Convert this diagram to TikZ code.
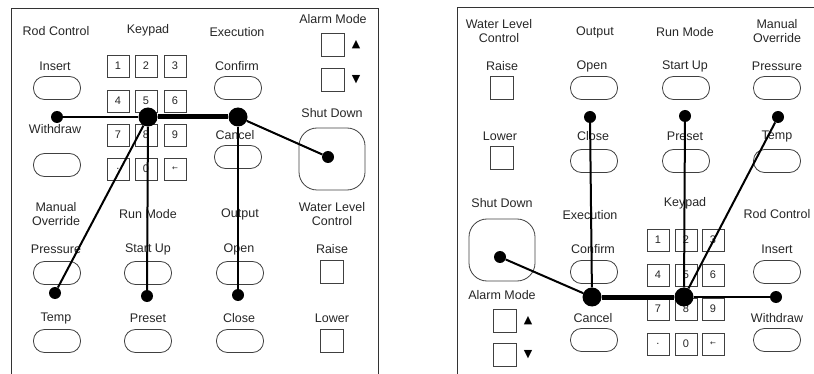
\documentclass[tikz,border=0pt]{standalone}
\usepackage{fontspec}
\setmainfont{Liberation Sans}
\newfontfamily\symfont{DejaVu Sans}
\usepackage{xcolor}
\usepackage{tikz}
\usetikzlibrary{shapes.geometric}
\tikzstyle{caption} = [font=\fontsize{12.5}{14}\selectfont, text=black!85, inner sep=0pt, align=center]
\tikzstyle{ovalbutton} = [rectangle, rounded corners=11pt, minimum width=47pt, minimum height=23pt, draw=black!75, line width=0.8pt]
\tikzstyle{squarebox} = [rectangle, minimum width=23pt, minimum height=23pt, draw=black!75, line width=0.8pt]
\tikzstyle{keybox} = [rectangle, minimum width=22pt, minimum height=22pt, draw=black!75, line width=0.9pt, font=\fontsize{11}{12}\selectfont, text=black!85, inner sep=0pt]
\tikzstyle{bigbutton} = [rectangle, rounded corners=18pt, minimum width=66pt, minimum height=62pt, draw=black!75, line width=0.8pt]
\tikzstyle{marker} = [font=\symfont\fontsize{11}{12}\selectfont, inner sep=0pt]
\tikzstyle{dot} = [circle, fill=black, inner sep=0pt, minimum size=12pt]
\tikzstyle{hub} = [circle, fill=black, inner sep=0pt, minimum size=19pt]
\tikzstyle{link} = [line width=2pt]
\tikzstyle{trunk} = [line width=5pt]
\tikzstyle{frame} = [draw=black!80, line width=1pt]
\begin{document}
\begin{tikzpicture}[x=1pt, y=-1pt]
    \useasboundingbox (0,0) rectangle (814,374);
    % left panel
    \draw [frame] (11,374) -- (11,9) -- (378,9) -- (378,374);
    \node (l_rod) [caption] at (56,31) {Rod Control};
    \node (l_keypad) [caption] at (148,30) {Keypad};
    \node (l_exec) [caption] at (237,32) {Execution};
    \node (l_alarm) [caption] at (333,19) {Alarm Mode};
    \node (l_insert_lbl) [caption] at (55,66) {Insert};
    \node (l_insert) [ovalbutton] at (57,88) {};
    \node (l_withdraw_lbl) [caption] at (55,129) {Withdraw};
    \node (l_withdraw) [ovalbutton] at (57,165) {};
    \node (l_confirm_lbl) [caption] at (237,66) {Confirm};
    \node (l_confirm) [ovalbutton] at (238,88) {};
    \node (l_cancel_lbl) [caption] at (235,135) {Cancel};
    \node (l_cancel) [ovalbutton] at (238,157) {};
    \node (l_key1) [keybox] at (118,66) {1};
    \node (l_key2) [keybox] at (146,66) {2};
    \node (l_key3) [keybox] at (175,66) {3};
    \node (l_key4) [keybox] at (118,101) {4};
    \node (l_key5) [keybox] at (146,101) {5};
    \node (l_key6) [keybox] at (175,101) {6};
    \node (l_key7) [keybox] at (118,135) {7};
    \node (l_key8) [keybox] at (146,135) {8};
    \node (l_key9) [keybox] at (175,135) {9};
    \node (l_keydot) [keybox] at (118,169) {.};
    \node (l_key0) [keybox] at (146,169) {0};
    \node (l_keyback) [keybox] at (175,169) {\symfont\fontsize{7}{8}\selectfont ←};
    \node (l_alarm_up) [squarebox] at (333,45) {};
    \node (l_up) [marker] at (356,45) {▲};
    \node (l_alarm_down) [squarebox] at (333,80) {};
    \node (l_down) [marker] at (356,80) {▼};
    \node (l_shut_lbl) [caption] at (332,113) {Shut Down};
    \node (l_shut) [bigbutton] at (332,159) {};
    \node (l_manual) [caption] at (56,214) {Manual\\Override};
    \node (l_run) [caption] at (148,214) {Run Mode};
    \node (l_output) [caption] at (240,214) {Output};
    \node (l_water) [caption] at (332,214) {Water Level\\Control};
    \node (l_pressure_lbl) [caption] at (56,249) {Pressure};
    \node (l_pressure) [ovalbutton] at (57,273) {};
    \node (l_startup_lbl) [caption] at (148,249) {Start Up};
    \node (l_startup) [ovalbutton] at (148,273) {};
    \node (l_open_lbl) [caption] at (239,249) {Open};
    \node (l_open) [ovalbutton] at (240,273) {};
    \node (l_raise_lbl) [caption] at (332,249) {Raise};
    \node (l_raise) [squarebox] at (332,272) {};
    \node (l_temp_lbl) [caption] at (56,318) {Temp};
    \node (l_temp) [ovalbutton] at (57,341) {};
    \node (l_preset_lbl) [caption] at (148,318) {Preset};
    \node (l_preset) [ovalbutton] at (148,341) {};
    \node (l_close_lbl) [caption] at (239,318) {Close};
    \node (l_close) [ovalbutton] at (240,341) {};
    \node (l_lower_lbl) [caption] at (332,318) {Lower};
    \node (l_lower) [squarebox] at (332,341) {};
    \node (l_insert_dot) [dot] at (57,117) {};
    \node (l_hub_key) [hub] at (148,117) {};
    \node (l_hub_exec) [hub] at (238,117) {};
    \node (l_shut_dot) [dot] at (328,157) {};
    \node (l_temp_dot) [dot] at (55,293) {};
    \node (l_preset_dot) [dot] at (147,296) {};
    \node (l_close_dot) [dot] at (238,295) {};
    \draw [link] (l_insert_dot) -- (l_hub_key);
    \draw [trunk] (l_hub_key) -- (l_hub_exec);
    \draw [link] (l_hub_exec) -- (l_shut_dot);
    \draw [link] (l_hub_key) -- (l_temp_dot);
    \draw [link] (l_hub_key) -- (l_preset_dot);
    \draw [link] (l_hub_exec) -- (l_close_dot);
    % right panel
    \draw [frame] (457,374) -- (457,8) -- (814,8);
    \node (r_water) [caption] at (499,31) {Water Level\\Control};
    \node (r_output) [caption] at (595,32) {Output};
    \node (r_run) [caption] at (685,32) {Run Mode};
    \node (r_manual) [caption] at (777,31) {Manual\\Override};
    \node (r_raise_lbl) [caption] at (502,66) {Raise};
    \node (r_raise) [squarebox] at (502,88) {};
    \node (r_open_lbl) [caption] at (592,66) {Open};
    \node (r_open) [ovalbutton] at (594,88) {};
    \node (r_startup_lbl) [caption] at (685,66) {Start Up};
    \node (r_startup) [ovalbutton] at (686,88) {};
    \node (r_pressure_lbl) [caption] at (777,66) {Pressure};
    \node (r_pressure) [ovalbutton] at (777,88) {};
    \node (r_lower_lbl) [caption] at (500,136) {Lower};
    \node (r_lower) [squarebox] at (502,158) {};
    \node (r_close_lbl) [caption] at (593,136) {Close};
    \node (r_close) [ovalbutton] at (594,161) {};
    \node (r_preset_lbl) [caption] at (685,136) {Preset};
    \node (r_preset) [ovalbutton] at (686,161) {};
    \node (r_temp_lbl) [caption] at (777,136) {Temp};
    \node (r_temp) [ovalbutton] at (777,161) {};
    \node (r_shut_lbl) [caption] at (502,203) {Shut Down};
    \node (r_shut) [bigbutton] at (502,250) {};
    \node (r_exec) [caption] at (590,215) {Execution};
    \node (r_confirm_lbl) [caption] at (593,249) {Confirm};
    \node (r_confirm) [ovalbutton] at (594,272) {};
    \node (r_alarm) [caption] at (502,295) {Alarm Mode};
    \node (r_alarm_up) [squarebox] at (505,321) {};
    \node (r_up) [marker] at (528,321) {▲};
    \node (r_alarm_down) [squarebox] at (505,355) {};
    \node (r_down) [marker] at (528,355) {▼};
    \node (r_cancel_lbl) [caption] at (593,318) {Cancel};
    \node (r_cancel) [ovalbutton] at (594,340) {};
    \node (r_keypad) [caption] at (685,203) {Keypad};
    \node (r_key1) [keybox] at (658,240) {1};
    \node (r_key2) [keybox] at (686,240) {2};
    \node (r_key3) [keybox] at (713,240) {3};
    \node (r_key4) [keybox] at (658,275) {4};
    \node (r_key5) [keybox] at (686,275) {5};
    \node (r_key6) [keybox] at (713,275) {6};
    \node (r_key7) [keybox] at (658,309) {7};
    \node (r_key8) [keybox] at (686,309) {8};
    \node (r_key9) [keybox] at (713,309) {9};
    \node (r_keydot) [keybox] at (658,344) {.};
    \node (r_key0) [keybox] at (686,344) {0};
    \node (r_keyback) [keybox] at (713,344) {\symfont\fontsize{7}{8}\selectfont ←};
    \node (r_rod) [caption] at (777,214) {Rod Control};
    \node (r_insert_lbl) [caption] at (777,249) {Insert};
    \node (r_insert) [ovalbutton] at (777,272) {};
    \node (r_withdraw_lbl) [caption] at (777,318) {Withdraw};
    \node (r_withdraw) [ovalbutton] at (777,340) {};
    \node (r_open_dot) [dot] at (590,117) {};
    \node (r_startup_dot) [dot] at (685,116) {};
    \node (r_pressure_dot) [dot] at (778,117) {};
    \node (r_shut_dot) [dot] at (500,257) {};
    \node (r_hub_exec) [hub] at (592,297) {};
    \node (r_hub_key) [hub] at (684,297) {};
    \node (r_insert_dot) [dot] at (776,297) {};
    \draw [link] (r_shut_dot) -- (r_hub_exec);
    \draw [trunk] (r_hub_exec) -- (r_hub_key);
    \draw [link] (r_hub_key) -- (r_insert_dot);
    \draw [link] (r_open_dot) -- (r_hub_exec);
    \draw [link] (r_startup_dot) -- (r_hub_key);
    \draw [link] (r_pressure_dot) -- (r_hub_key);
\end{tikzpicture}
\end{document}
